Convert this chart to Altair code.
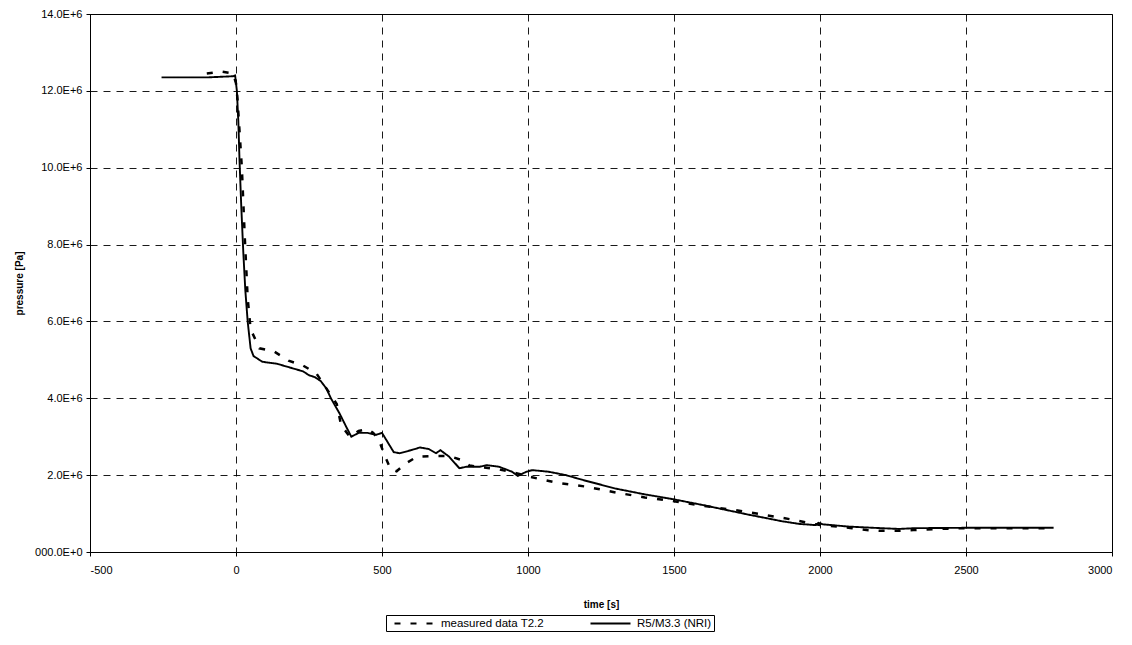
import altair as alt
import pandas as pd

# measured data T2.2 (time s, pressure MPa)
meas_t = [-100, -50, -10, 0, 5, 10, 20, 30, 40, 50, 80, 130, 180, 230, 275, 310, 345, 360, 390,
          420, 450, 470, 490, 510, 530, 550, 580, 620, 680, 730, 770, 800, 850, 900, 960, 1010,
          1100, 1200, 1300, 1400, 1500, 1600, 1700, 1800, 1900, 2000, 2060, 2110, 2160, 2210,
          2270, 2320, 2400, 2500, 2600, 2700, 2800]
meas_p = [12.45, 12.5, 12.45, 12.2, 11.8, 11.2, 10.0, 8.2, 6.6, 5.8, 5.3, 5.22, 4.98, 4.85, 4.65,
          4.25, 3.85, 3.3, 3.0, 3.15, 3.2, 3.1, 2.9, 2.5, 2.15, 2.1, 2.3, 2.48, 2.5, 2.5, 2.4, 2.25,
          2.2, 2.15, 2.05, 1.95, 1.8, 1.7, 1.55, 1.42, 1.32, 1.2, 1.1, 0.98, 0.85, 0.7, 0.66, 0.62,
          0.57, 0.55, 0.55, 0.57, 0.6, 0.62, 0.62, 0.62, 0.62]

# R5/M3.3 (NRI) calculation
sim_t = [-255, -100, -10, -3, 3, 8, 12, 18, 25, 32, 40, 50, 60, 90, 140, 185, 230, 250, 270, 290,
         310, 325, 355, 378, 395, 420, 450, 480, 500, 520, 540, 560, 600, 630, 660, 685, 700, 730,
         765, 790, 835, 860, 900, 945, 965, 995, 1015, 1070, 1130, 1190, 1300, 1400, 1500, 1600,
         1750, 1870, 1930, 1985, 1995, 2010, 2100, 2210, 2270, 2325, 2500, 2800]
sim_p = [12.35, 12.35, 12.38, 12.4, 12.0, 11.2, 10.2, 9.0, 7.8, 6.8, 6.0, 5.3, 5.1, 4.95, 4.9, 4.8,
         4.7, 4.6, 4.55, 4.45, 4.25, 4.0, 3.6, 3.25, 3.0, 3.1, 3.1, 3.05, 3.1, 2.85, 2.6, 2.57, 2.65,
         2.72, 2.68, 2.57, 2.65, 2.48, 2.18, 2.22, 2.22, 2.26, 2.22, 2.09, 1.98, 2.09, 2.13, 2.09,
         2.0, 1.87, 1.65, 1.5, 1.37, 1.22, 0.98, 0.8, 0.73, 0.7, 0.76, 0.72, 0.66, 0.62, 0.6, 0.62,
         0.63, 0.63]

series_names = ["measured data T2.2", "R5/M3.3 (NRI)"]
x_ticks = [-500, 0, 500, 1000, 1500, 2000, 2500, 3000]
y_ticks = [0, 2e6, 4e6, 6e6, 8e6, 10e6, 12e6, 14e6]

rows = []
for i, (t, p) in enumerate(zip(meas_t, meas_p)):
    rows.append({"t": t, "p": p * 1e6, "series": series_names[0], "o": i})
for i, (t, p) in enumerate(zip(sim_t, sim_p)):
    rows.append({"t": t, "p": p * 1e6, "series": series_names[1], "o": i})
df = pd.DataFrame(rows)

FONT = "Liberation Sans"

chart = alt.Chart(df).mark_line(clip=True).encode(
    x=alt.X("t:Q", title="time [s]",
            scale=alt.Scale(domain=[-500, 3000], nice=False, zero=False),
            axis=alt.Axis(values=x_ticks, labelExpr="'' + datum.value", tickSize=4,
                          labelPadding=8, titlePadding=24, grid=True)),
    y=alt.Y("p:Q", title="pressure [Pa]",
            scale=alt.Scale(domain=[0, 14e6], nice=False),
            axis=alt.Axis(values=y_ticks, tickSize=4, labelPadding=4, grid=True,
                          labelExpr="datum.value == 0 ? '000.0E+0' : format(datum.value/1e6, '.1f') + 'E+6'",
                          titlePadding=10)),
    order="o:Q",
    strokeDash=alt.StrokeDash("series:N", title=None,
                              scale=alt.Scale(domain=series_names, range=[[6, 10], [1, 0]])),
    strokeWidth=alt.condition(alt.datum.series == series_names[0], alt.value(2.5), alt.value(1.9)),
    color=alt.value("black"),
).properties(
    width=1022, height=538,
    autosize=alt.AutoSizeParams(type="none"),
    padding={"left": 82, "top": 6, "right": 10, "bottom": 85},
).configure(
    font=FONT,
).configure_view(
    stroke="black", strokeWidth=1,
).configure_axis(
    gridColor="black", gridDash=[7, 6], gridWidth=0.9, gridOpacity=1,
    domainColor="black", tickColor="black", domainWidth=1,
    labelFont=FONT, labelFontSize=11, labelColor="black",
    titleFont=FONT, titleFontSize=10, titleFontWeight="bold", titleColor="black",
).configure_legend(
    orient="none", legendX=296, legendY=601, direction="horizontal",
    strokeColor="black", padding=2, fillColor="white",
    symbolType="M0,0L8,0", symbolSize=100, symbolStrokeColor="black", symbolStrokeWidth=2.2,
    labelOffset=40, labelFont=FONT, labelFontSize=11.5, labelColor="black", columnPadding=40,
)

chart.save("out.html", embed_options={"renderer": "svg", "actions": False})
